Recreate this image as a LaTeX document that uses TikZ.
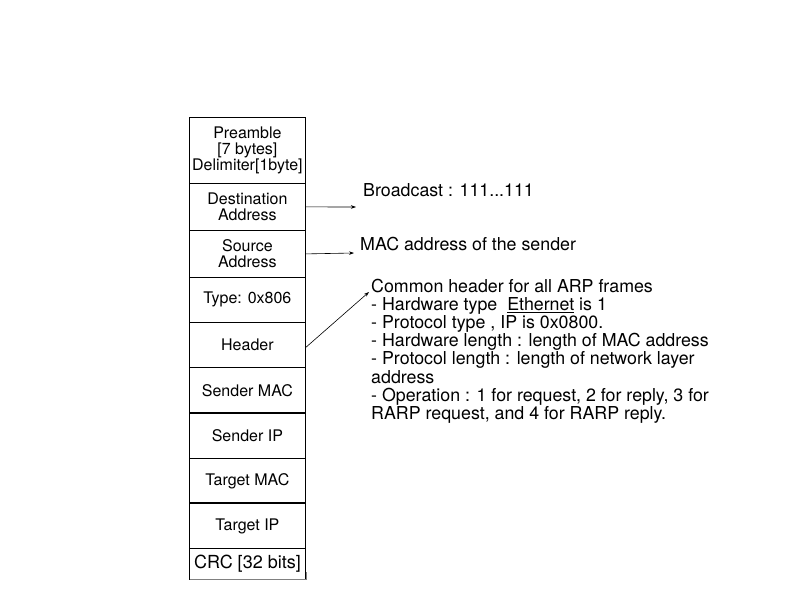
\documentclass[tikz,border=0pt]{standalone}
\usepackage{fontspec}
\setmainfont{TeX Gyre Heros}
\usetikzlibrary{arrows.meta}
\begin{document}
\begin{tikzpicture}[x=1pt,y=-1pt,
 field/.style={draw, line width=0.8pt, minimum width=116pt, inner sep=0pt, anchor=north west, align=center, font=\fontsize{16}{16}\selectfont},
 note/.style={inner sep=0pt, font=\fontsize{17.8}{18.1}\selectfont, align=left},
 arr/.style={-{Stealth[length=5pt,width=3.5pt]}, line width=0.6pt},
 sep/.style={line width=1.6pt}]
\useasboundingbox (0,0) rectangle (794,595);
\node[field, minimum height=66pt] (pre) at (189,117) {Preamble\\{[7 bytes]}\\Delimiter[1byte]};
\node[field, minimum height=47pt] (dst) at (189,183) {Destination\\Address};
\node[field, minimum height=47pt] (src) at (189,230) {Source\\Address};
\node[field, minimum height=45pt] (type) at (189,277) {Type: 0x806};
\node[field, minimum height=45pt] (hdr) at (189,322) {Header};
\node[field, minimum height=46pt] (smac) at (189,367) {Sender MAC};
\node[field, minimum height=45pt] (sip) at (189,413) {Sender IP};
\node[field, minimum height=45pt] (tmac) at (189,458) {Target MAC};
\node[field, minimum height=45pt] (tip) at (189,503) {Target IP};
\node[field, minimum height=31pt, font=\fontsize{18}{18}\selectfont] (crc) at (189,548) {CRC [32 bits]};
\draw[sep] (sip.north west) -- (sip.north east);
\draw[sep] (tip.north west) -- (tip.north east);
\draw[gray, line width=1.2pt] ([xshift=0.6pt]crc.south west) -- ([xshift=0.6pt]crc.south east) -- ([xshift=0.6pt,yshift=8pt]crc.south east);
\node[note, anchor=west] (bc) at (363,190) {Broadcast : 111...111};
\node[note, anchor=west] (mac) at (360,244) {MAC address of the sender};
\node[note, anchor=north west] (common) at (371,279) {Common header for all ARP frames\\
- Hardware type~ \underline{Ethernet} is 1\\
- Protocol type , IP is 0x0800.\\
- Hardware length : length of MAC address\\
- Protocol length : length of network layer\\
address\\
- Operation : 1 for request, 2 for reply, 3 for\\
RARP request, and 4 for RARP reply.};
\coordinate (bcend) at (356,207);
\coordinate (macend) at (354,253);
\coordinate (hdrend) at (369,292);
\draw[arr] (dst.east) -- (bcend);
\draw[arr] (src.east) -- (macend);
\draw[arr] ([yshift=-2.5pt]hdr.east) -- (hdrend);
\end{tikzpicture}
\end{document}
